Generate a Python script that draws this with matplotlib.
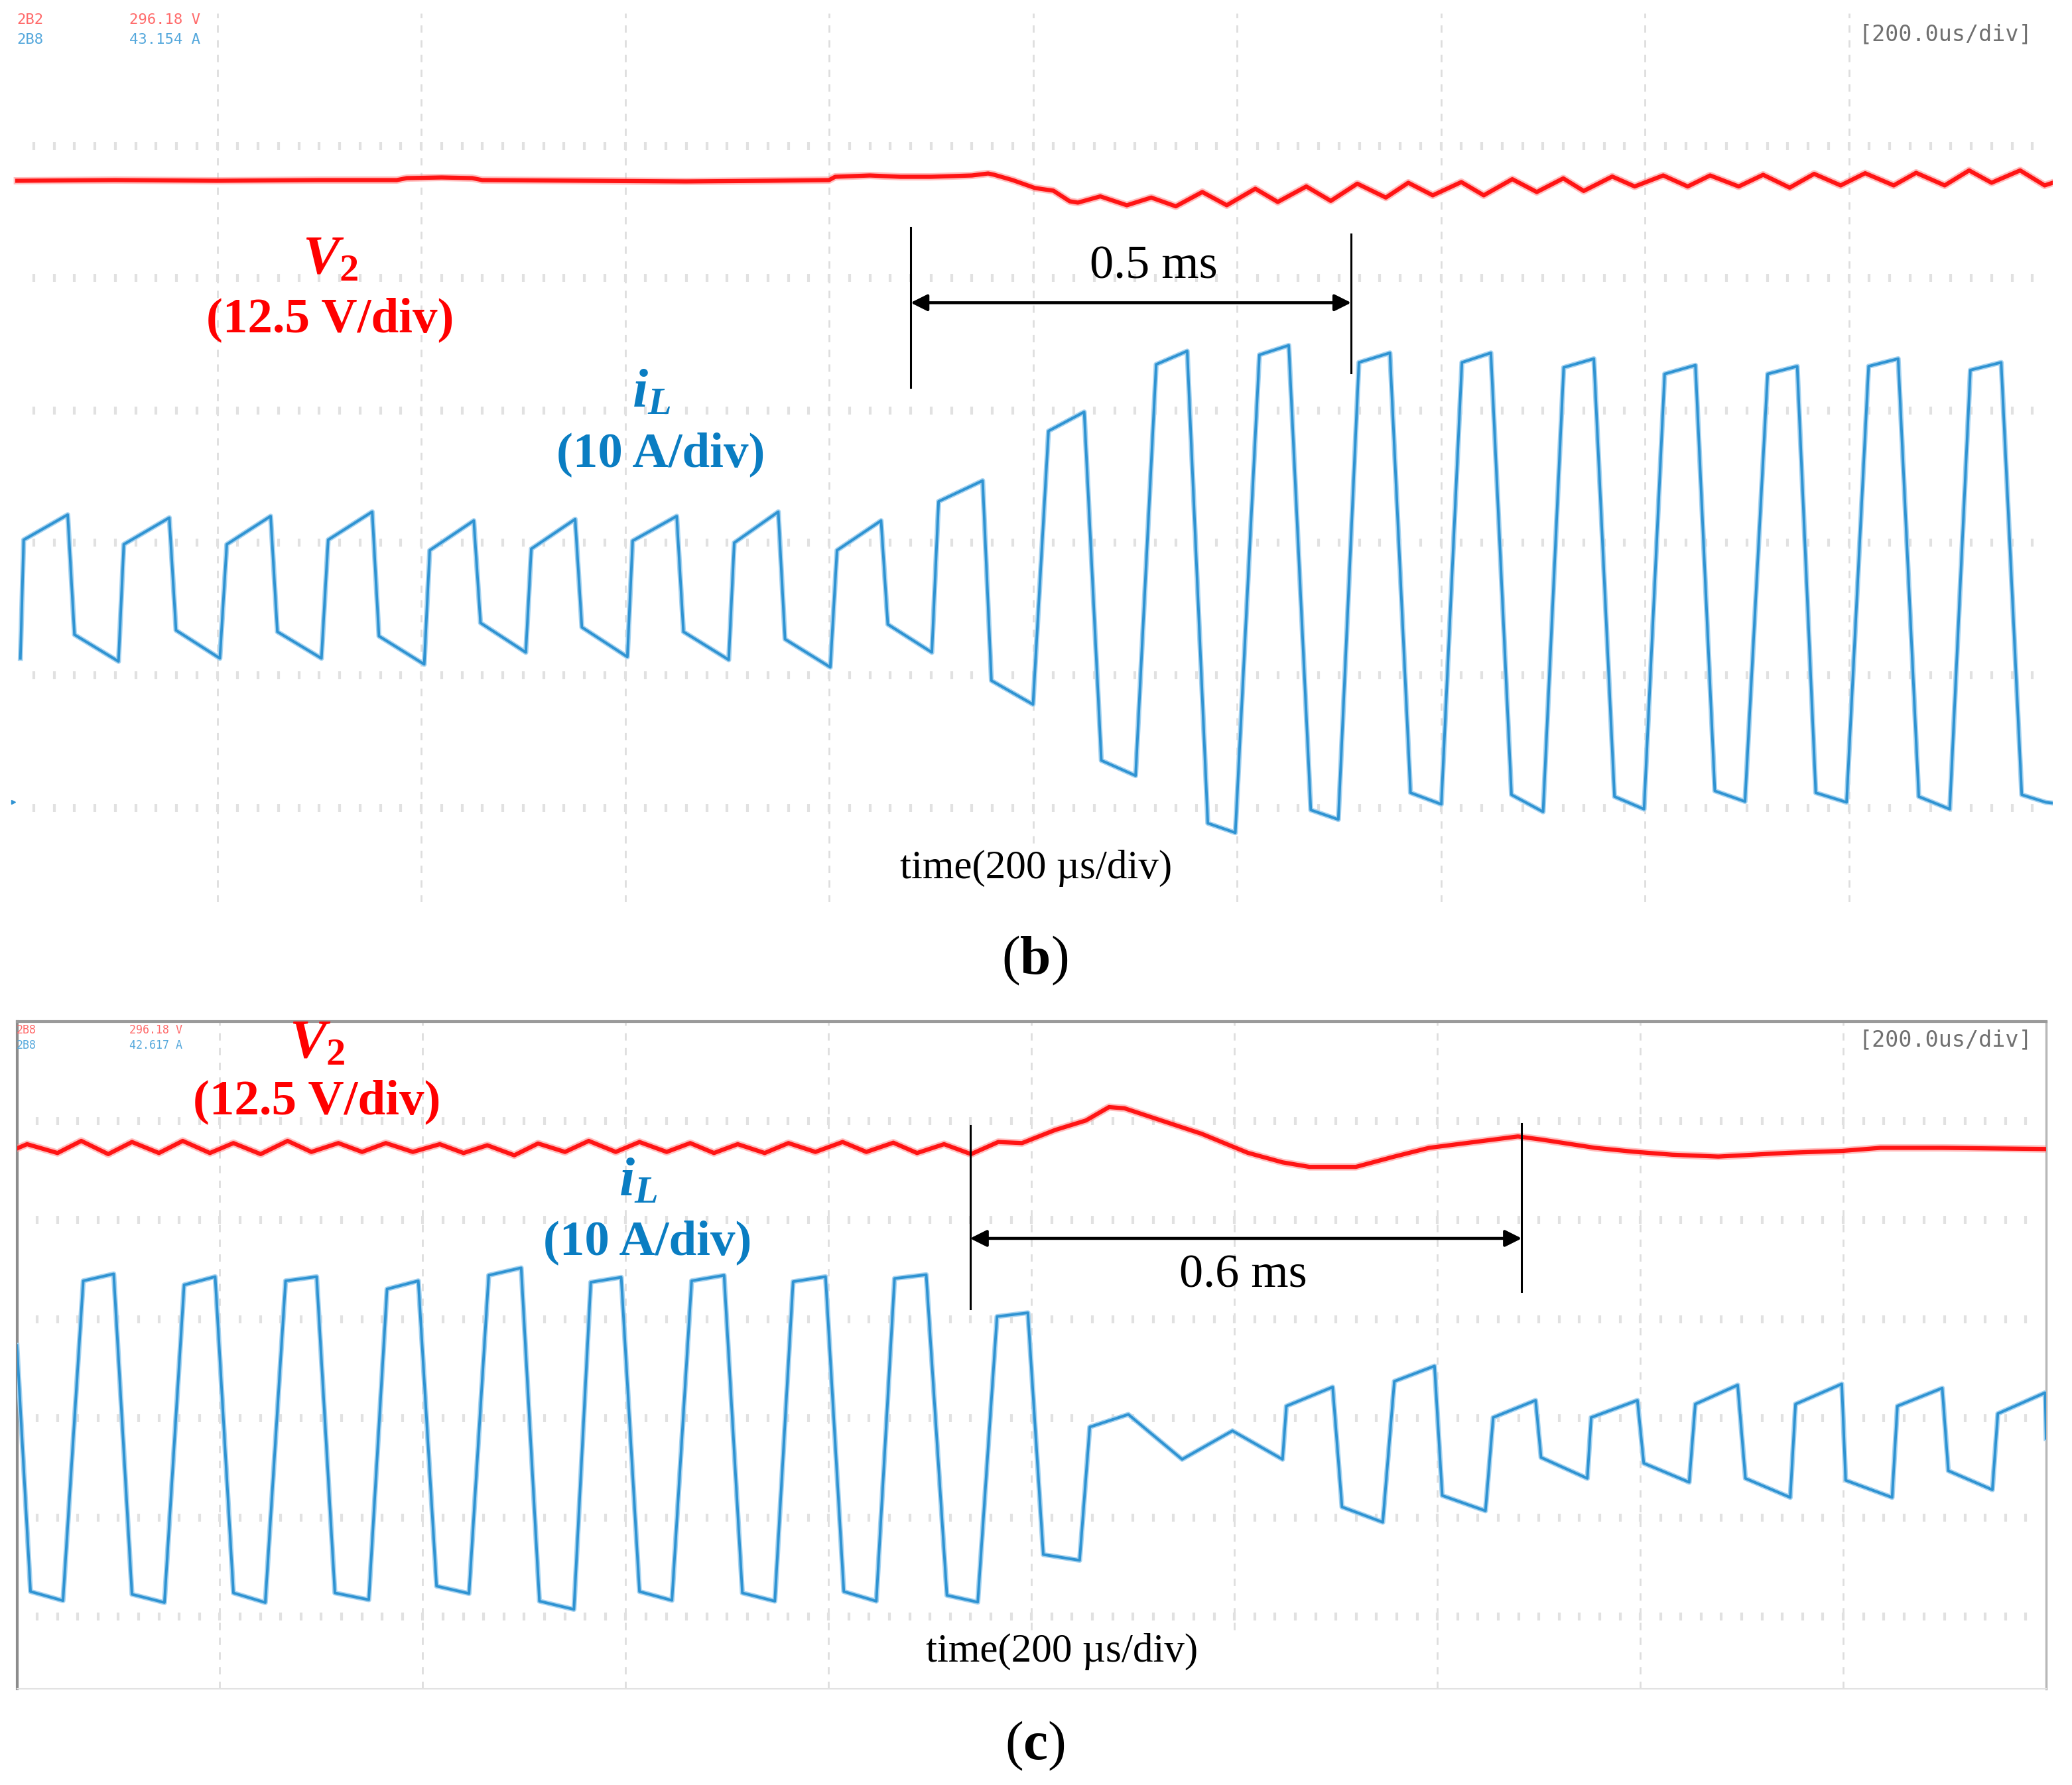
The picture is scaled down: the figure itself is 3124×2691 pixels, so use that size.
import numpy as np
import matplotlib
matplotlib.use("Agg")
import matplotlib.pyplot as plt
from matplotlib.patches import Rectangle

plt.rcParams["font.family"] = "Liberation Serif"
plt.rcParams["mathtext.fontset"] = "custom"
plt.rcParams["mathtext.rm"] = "Liberation Serif"
plt.rcParams["mathtext.it"] = "Liberation Serif:italic:bold"
plt.rcParams["mathtext.bf"] = "Liberation Serif:bold"

W, H = 3124, 2691  # output size in px (dpi 100)

# ---------------- panel (b): scope traces, x in div (200 us/div), y in div ----------------
B_V2_T = [0.02, 0.50, 1.00, 1.50, 1.88, 1.93, 2.10, 2.25, 2.30, 2.80, 3.30, 3.70, 4.00,
          4.03, 4.20, 4.35, 4.50, 4.70, 4.78, 4.81, 4.90, 5.01, 5.10, 5.18, 5.22,
          5.33, 5.46, 5.58, 5.70, 5.83, 5.95, 6.09, 6.20, 6.34, 6.46, 6.59, 6.73,
          6.84, 6.96, 7.10, 7.21, 7.35, 7.47, 7.60, 7.70, 7.84, 7.95, 8.09, 8.21,
          8.32, 8.46, 8.58, 8.71, 8.83, 8.96, 9.08, 9.22, 9.33, 9.47, 9.59, 9.70,
          9.84, 9.96, 10.0]
B_V2_V = [2.735, 2.740, 2.735, 2.740, 2.740, 2.755, 2.760, 2.755, 2.740, 2.735, 2.730, 2.735, 2.740,
          2.765, 2.775, 2.765, 2.765, 2.775, 2.790, 2.780, 2.740, 2.680, 2.660, 2.580, 2.570,
          2.617, 2.550, 2.608, 2.542, 2.650, 2.550, 2.675, 2.575, 2.692, 2.583, 2.713, 2.608,
          2.720, 2.625, 2.725, 2.625, 2.747, 2.650, 2.753, 2.658, 2.767, 2.692, 2.775, 2.692,
          2.775, 2.692, 2.780, 2.683, 2.787, 2.700, 2.792, 2.700, 2.795, 2.700, 2.813, 2.720,
          2.813, 2.700, 2.720]

B_IL_T = [0.035, 0.051, 0.267, 0.300, 0.516,
          0.542, 0.765, 0.798, 1.013,
          1.047, 1.262, 1.295, 1.511,
          1.544, 1.760, 1.793, 2.015,
          2.042, 2.258, 2.291, 2.513,
          2.540, 2.755, 2.788, 3.011,
          3.037, 3.253, 3.286, 3.508,
          3.535, 3.751, 3.784, 4.006,
          4.039, 4.255, 4.288, 4.504,
          4.537, 4.753, 4.796, 5.000,
          5.076, 5.251, 5.335, 5.503,
          5.604, 5.756, 5.857, 5.992,
          6.110, 6.254, 6.362, 6.497,
          6.598, 6.750, 6.851, 7.002,
          7.103, 7.245, 7.346, 7.501,
          7.602, 7.750, 7.851, 7.996,
          8.097, 8.248, 8.343, 8.491,
          8.602, 8.747, 8.838, 8.989,
          9.097, 9.242, 9.343, 9.495,
          9.596, 9.747, 9.848, 9.966, 10.0]
B_IL_V = [-0.872, 0.023, 0.213, -0.693, -0.895,
          -0.011, 0.190, -0.660, -0.872,
          -0.011, 0.202, -0.671, -0.872,
          0.023, 0.235, -0.704, -0.917,
          -0.056, 0.168, -0.604, -0.827,
          -0.045, 0.179, -0.637, -0.861,
          0.016, 0.202, -0.671, -0.883,
          0.001, 0.235, -0.727, -0.939,
          -0.056, 0.168, -0.615, -0.827,
          0.313, 0.470, -1.040, -1.220,
          0.845, 0.989, -1.643, -1.758,
          1.348, 1.449, -2.117, -2.189,
          1.420, 1.492, -2.017, -2.089,
          1.363, 1.435, -1.887, -1.974,
          1.363, 1.435, -1.902, -2.031,
          1.325, 1.391, -1.916, -2.011,
          1.276, 1.342, -1.873, -1.953,
          1.276, 1.334, -1.887, -1.959,
          1.334, 1.391, -1.916, -2.011,
          1.305, 1.363, -1.902, -1.959, -1.965]

# ---------------- panel (c): load drop ----------------
C_V2_T = [0.00, 0.050, 0.200, 0.317, 0.450, 0.567, 0.700, 0.817, 0.951, 1.067, 1.201,
          1.334, 1.451, 1.584, 1.701, 1.818, 1.951, 2.084, 2.201, 2.318, 2.451, 2.568,
          2.701, 2.818, 2.951, 3.068, 3.202, 3.318, 3.435, 3.552, 3.685, 3.802, 3.935,
          4.069, 4.186, 4.319, 4.436, 4.569, 4.702, 4.836, 4.953, 5.116, 5.268, 5.382,
          5.458, 5.610, 5.838, 6.066, 6.237, 6.370, 6.598, 6.788, 6.959, 7.206, 7.397,
          7.511, 7.777, 7.967, 8.157, 8.385, 8.727, 8.993, 9.184, 9.488, 10.0]
C_V2_V = [2.720, 2.763, 2.674, 2.796, 2.663, 2.785, 2.674, 2.796, 2.674, 2.774, 2.663,
          2.796, 2.685, 2.774, 2.685, 2.774, 2.685, 2.763, 2.674, 2.752, 2.651, 2.770,
          2.685, 2.796, 2.685, 2.785, 2.685, 2.774, 2.674, 2.763, 2.674, 2.774, 2.685,
          2.785, 2.685, 2.778, 2.674, 2.763, 2.663, 2.785, 2.774, 2.906, 3.002, 3.137,
          3.125, 3.022, 2.868, 2.676, 2.580, 2.534, 2.534, 2.638, 2.726, 2.791, 2.841,
          2.810, 2.726, 2.687, 2.657, 2.638, 2.676, 2.695, 2.726, 2.726, 2.714]

C_IL_T = [0.000, 0.067, 0.227,
          0.327, 0.477, 0.567, 0.727,
          0.824, 0.977, 1.067, 1.224,
          1.324, 1.477, 1.567, 1.734,
          1.824, 1.978, 2.068, 2.228,
          2.325, 2.485, 2.575, 2.745,
          2.828, 2.978, 3.068, 3.228,
          3.325, 3.485, 3.575, 3.735,
          3.825, 3.985, 4.075, 4.235,
          4.325, 4.481, 4.583, 4.735,
          4.830, 4.982, 5.058, 5.237,
          5.287, 5.477, 5.742, 5.990, 6.237,
          6.256, 6.484, 6.530, 6.731,
          6.788, 6.986, 7.024, 7.237,
          7.275, 7.484, 7.511, 7.739,
          7.758, 7.986, 8.017, 8.241,
          8.271, 8.480, 8.518, 8.739,
          8.765, 8.993, 9.012, 9.241,
          9.267, 9.488, 9.518, 9.735,
          9.762, 9.995, 10.0]
C_IL_V = [0.734, -1.748, -1.840,
          1.385, 1.455, -1.776, -1.859,
          1.344, 1.427, -1.762, -1.859,
          1.385, 1.427, -1.762, -1.831,
          1.302, 1.385, -1.693, -1.768,
          1.441, 1.516, -1.845, -1.928,
          1.371, 1.421, -1.748, -1.837,
          1.385, 1.441, -1.762, -1.845,
          1.377, 1.427, -1.748, -1.845,
          1.409, 1.447, -1.786, -1.855,
          1.025, 1.063, -1.375, -1.433,
          -0.089, 0.038, -0.415, -0.127, -0.415,
          0.122, 0.314, -0.895, -1.049,
          0.372, 0.526, -0.780, -0.934,
          0.007, 0.180, -0.396, -0.607,
          0.007, 0.180, -0.454, -0.646,
          0.142, 0.334, -0.607, -0.799,
          0.142, 0.345, -0.626, -0.799,
          0.122, 0.303, -0.530, -0.722,
          0.046, 0.257, -0.204]

RED = "#ff0000"
BLUE_TXT = "#0a7dc2"
BLUE_TRACE = "#2f93d2"
BLUE_FRINGE = "#a6d3f0"


def px_rect(left, top, right, bottom):
    return [left / W, 1 - bottom / H, (right - left) / W, (bottom - top) / H]


def fig_xy(x, y):
    return x / W, 1 - y / H


def graticule(ax):
    for x in range(1, 10):
        ax.axvline(x, color="#dedede", lw=2, ls=(0, (4, 4)), zorder=1)
    tx = np.arange(0.1, 10, 0.1)
    for y in range(-2, 4):
        ax.plot(tx, np.full_like(tx, float(y)), ls="none", marker="|", ms=8, mew=3,
                color="#e1e1e1", zorder=1)


def traces(ax, v_t, v_v, i_t, i_v):
    ax.plot(v_t, v_v, color="#ff8a8a", lw=8, alpha=0.55, solid_joinstyle="round", zorder=3)
    ax.plot(v_t, v_v, color="#ff1414", lw=4.5, solid_joinstyle="round", zorder=3)
    ax.plot(i_t, i_v, color=BLUE_FRINGE, lw=5.5, solid_joinstyle="round", zorder=3)
    ax.plot(i_t, i_v, color=BLUE_TRACE, lw=2.8, solid_joinstyle="round", zorder=4)


def span(ax, x0, x1, y_arrow, y0_top, y0_bot, y1_top, y1_bot, label, label_xy):
    ax.plot([x0, x0], [y0_bot, y0_top], color="k", lw=2.2, zorder=5)
    ax.plot([x1, x1], [y1_bot, y1_top], color="k", lw=2.2, zorder=5)
    ax.annotate("", xy=(x1, y_arrow), xytext=(x0, y_arrow),
                arrowprops=dict(arrowstyle="<|-|>", color="k", lw=3.2,
                                mutation_scale=38, shrinkA=0, shrinkB=0), zorder=5)
    ax.text(*label_xy, label, fontsize=52, ha="center", va="center", zorder=6)


def labels(ax, v_xy, vdiv_xy, i_xy, idiv_xy, time_xy):
    ax.text(*v_xy, r"$\mathit{V}_{\mathbf{2}}$", color=RED, fontsize=60,
            ha="center", va="center", zorder=6)
    ax.text(*vdiv_xy, "(12.5 V/div)", color=RED, fontsize=54, fontweight="bold",
            ha="center", va="center", zorder=6)
    ax.text(*i_xy, r"$\mathit{i}_{\mathit{L}}$", color=BLUE_TXT, fontsize=60,
            ha="center", va="center", zorder=6)
    ax.text(*idiv_xy, "(10 A/div)", color=BLUE_TXT, fontsize=54, fontweight="bold",
            ha="center", va="center", zorder=6)
    ax.text(*time_xy, "time(200 \u00b5s/div)", fontsize=44, ha="center", va="center", zorder=6)


def header(fig, y_red, y_blue, ids, vals, size, y_div):
    fig.text(*fig_xy(25, y_red), ids[0], color="#ff6a6a", fontsize=size,
             family="DejaVu Sans Mono", va="center")
    fig.text(*fig_xy(195, y_red), vals[0], color="#ff6a6a", fontsize=size,
             family="DejaVu Sans Mono", va="center")
    fig.text(*fig_xy(25, y_blue), ids[1], color="#55a8dc", fontsize=size,
             family="DejaVu Sans Mono", va="center")
    fig.text(*fig_xy(195, y_blue), vals[1], color="#55a8dc", fontsize=size,
             family="DejaVu Sans Mono", va="center")
    fig.text(*fig_xy(2933, y_div), "[200.0us/div]", color="#707070", fontsize=24,
             family="DejaVu Sans Mono", ha="center", va="center")


fig = plt.figure(figsize=(W / 100, H / 100), dpi=100, facecolor="white")

# ---- (b) ----
axb = fig.add_axes(px_rect(20, 20, 3095, 1360))
axb.set_xlim(0, 10)
axb.set_ylim(-2.713, 4.0)
axb.set_xticks([])
axb.set_yticks([])
for s in axb.spines.values():
    s.set_visible(False)
graticule(axb)
axb.add_patch(Rectangle((4.16, -2.75), 1.71, 0.45, facecolor="white", edgecolor="none", zorder=2))
traces(axb, B_V2_T, B_V2_V, B_IL_T, B_IL_V)
axb.plot([0.0], [-1.957], ls="none", marker=">", ms=5, color=BLUE_TRACE, clip_on=False)
span(axb, 4.40, 6.56, 1.814, 2.38, 1.176, 2.33, 1.286, "0.5 ms", (5.59, 2.085))
labels(axb, (1.555, 2.134), (1.555, 1.685), (3.13, 1.125), (3.175, 0.668), (5.015, -2.457))
header(fig, 30, 60, ("2B2", "2B8"), ("296.18 V", "43.154 A"), 16, 52)

# ---- (c) ----
axc = fig.add_axes(px_rect(25.5, 1540, 3085, 2546))
axc.set_xlim(0, 10)
axc.set_ylim(-2.729, 4.0)
axc.set_xticks([])
axc.set_yticks([])
axc.spines["top"].set_color("#9a9a9a")
axc.spines["top"].set_linewidth(3)
axc.spines["left"].set_color("#8c8c8c")
axc.spines["left"].set_linewidth(3)
axc.spines["right"].set_color("#b8b8b8")
axc.spines["right"].set_linewidth(2.5)
axc.spines["bottom"].set_color("#e2e2e2")
axc.spines["bottom"].set_linewidth(1.5)
graticule(axc)
axc.add_patch(Rectangle((4.38, -2.76), 1.72, 0.62, facecolor="white", edgecolor="none", zorder=2))
traces(axc, C_V2_T, C_V2_V, C_IL_T, C_IL_V)
span(axc, 4.697, 7.416, 1.813, 2.947, 1.107, 2.973, 1.28, "0.6 ms", (6.044, 1.44))
labels(axc, (1.479, 3.77), (1.479, 3.187), (3.06, 2.374), (3.107, 1.774), (5.15, -2.356))
header(fig, 1553, 1576, ("2B8", "2B8"), ("296.18 V", "42.617 A"), 12, 1568)

# ---- captions ----
fig.text(*fig_xy(1560, 1448), r"($\mathbf{b}$)", fontsize=60, ha="center", va="center")
fig.text(*fig_xy(1560, 2632), r"($\mathbf{c}$)", fontsize=60, ha="center", va="center")

fig.savefig("out.png", dpi=100, facecolor="white")
plt.close(fig)
